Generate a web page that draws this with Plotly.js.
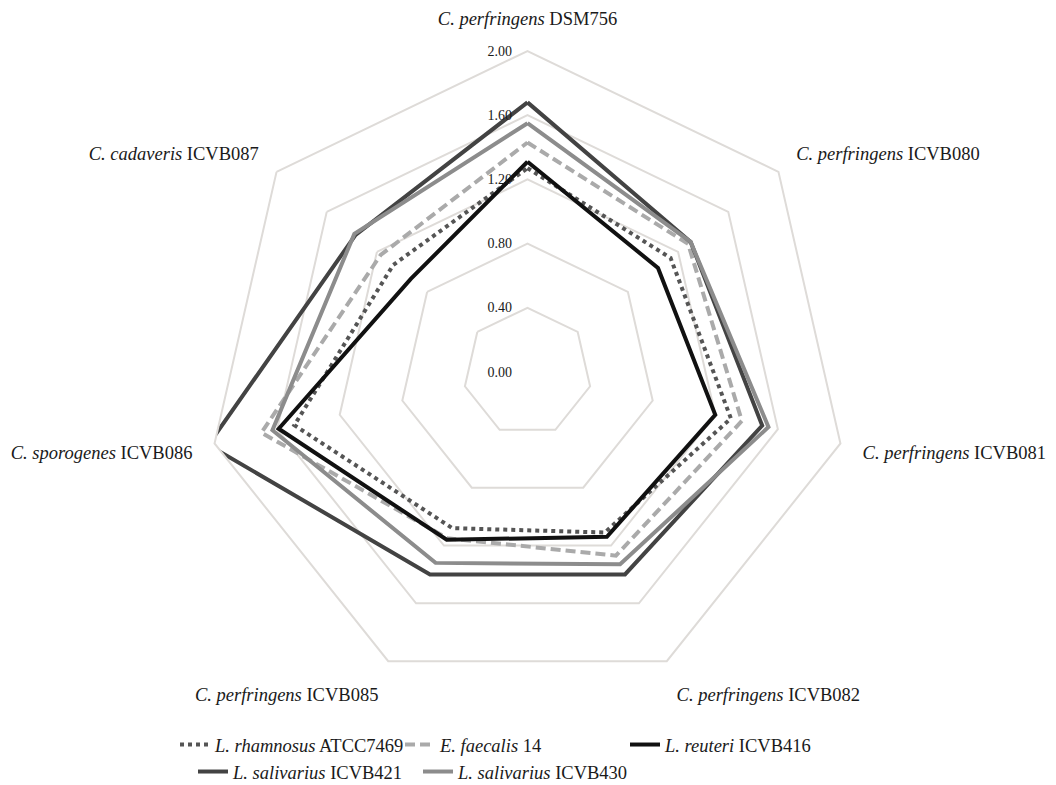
<!DOCTYPE html>
<html>
<head>
<meta charset="utf-8">
<script src="https://cdn.plot.ly/plotly-3.0.1.min.js"></script>
<style>html,body{margin:0;padding:0;background:#fff;}#chart{width:1056px;height:785px;}</style>
</head>
<body>
<div id="chart"></div>
<script>
// Categories (angular axis), clockwise from top
var categories = [
  "<i>C. perfringens</i> DSM756",
  "<i>C. perfringens</i> ICVB080",
  "<i>C. perfringens</i> ICVB081",
  "<i>C. perfringens</i> ICVB082",
  "<i>C. perfringens</i> ICVB085",
  "<i>C. sporogenes</i> ICVB086",
  "<i>C. cadaveris</i> ICVB087"
];
var seriesNames = [
  "<i>L. rhamnosus</i> ATCC7469",
  "<i>E. faecalis</i> 14",
  "<i>L. reuteri</i> ICVB416",
  "<i>L. salivarius</i> ICVB421",
  "<i>L. salivarius</i> ICVB430"
];
var rhamnosusATCC7469 = [1.27, 1.14, 1.30, 1.11, 1.08, 1.49, 1.07];
var faecalis14        = [1.43, 1.28, 1.37, 1.27, 1.15, 1.70, 1.17];
var reuteriICVB416    = [1.31, 1.04, 1.20, 1.14, 1.16, 1.59, 0.93];
var salivariusICVB421 = [1.68, 1.30, 1.50, 1.40, 1.40, 2.04, 1.37];
var salivariusICVB430 = [1.55, 1.30, 1.54, 1.33, 1.32, 1.63, 1.38];
var radialTickVals = [0, 0.4, 0.8, 1.2, 1.6, 2.0];
var radialTickText = ["0.00", "0.40", "0.80", "1.20", "1.60", "2.00"];

var allSeries = [rhamnosusATCC7469, faecalis14, reuteriICVB416, salivariusICVB421, salivariusICVB430];
var styles = [
  {color: "#555555", width: 4, dash: "4px,4px"},
  {color: "#aaaaaa", width: 4, dash: "10px,5px"},
  {color: "#111111", width: 4, dash: "solid"},
  {color: "#434343", width: 4, dash: "solid"},
  {color: "#8c8c8c", width: 4, dash: "solid"}
];
var legendRow = ["legend", "legend", "legend", "legend2", "legend2"];

function closeRing(a) { return a.concat([a[0]]); }

var traces = allSeries.map(function (vals, i) {
  return {
    type: "scatterpolar",
    mode: "lines",
    r: closeRing(vals),
    theta: closeRing(categories),
    name: seriesNames[i],
    line: styles[i],
    legend: legendRow[i],
    hoverinfo: "skip"
  };
});

var cx = 527.5, cyTop = 372, R = 321, W = 1056, H = 785;
var serif = "Liberation Serif, Times New Roman, serif";

function legendAt(xPx, yPx) {
  return {
    orientation: "h",
    x: xPx / W, xanchor: "left",
    y: 1 - yPx / H, yanchor: "middle",
    entrywidth: 180,
    entrywidthmode: "pixels",
    itemwidth: 30,
    font: {family: serif, size: 18.5, color: "#1a1a1a"},
    bgcolor: "rgba(0,0,0,0)"
  };
}

var layout = {
  width: W, height: H,
  margin: {l: 0, r: 0, t: 0, b: 0, autoexpand: false},
  paper_bgcolor: "#ffffff",
  plot_bgcolor: "#ffffff",
  font: {family: serif, size: 18.5, color: "#1a1a1a"},
  showlegend: true,
  polar: {
    domain: {
      x: [(cx - R) / W, (cx + R) / W],
      y: [(H - cyTop - R) / H, (H - cyTop + R) / H]
    },
    bgcolor: "#ffffff",
    gridshape: "linear",
    radialaxis: {
      range: [0, 2],
      tickvals: radialTickVals,
      ticktext: radialTickText,
      angle: 90,
      side: "counterclockwise",
      tickangle: 90,
      showline: false,
      ticks: "outside",
      ticklen: 10,
      tickcolor: "rgba(0,0,0,0)",
      showgrid: true,
      gridcolor: "#dedbd8",
      gridwidth: 2,
      tickfont: {family: serif, size: 14, color: "#1a1a1a"}
    },
    angularaxis: {
      direction: "clockwise",
      rotation: 90,
      showgrid: false,
      showline: true,
      linecolor: "#dedbd8",
      linewidth: 2,
      ticks: "outside",
      ticklen: 18,
      tickcolor: "rgba(0,0,0,0)",
      tickfont: {family: serif, size: 18.5, color: "#1a1a1a"}
    }
  },
  legend: legendAt(175, 745),
  legend2: legendAt(193, 772)
};

Plotly.newPlot("chart", traces, layout, {displayModeBar: false, staticPlot: true});
</script>
</body>
</html>
